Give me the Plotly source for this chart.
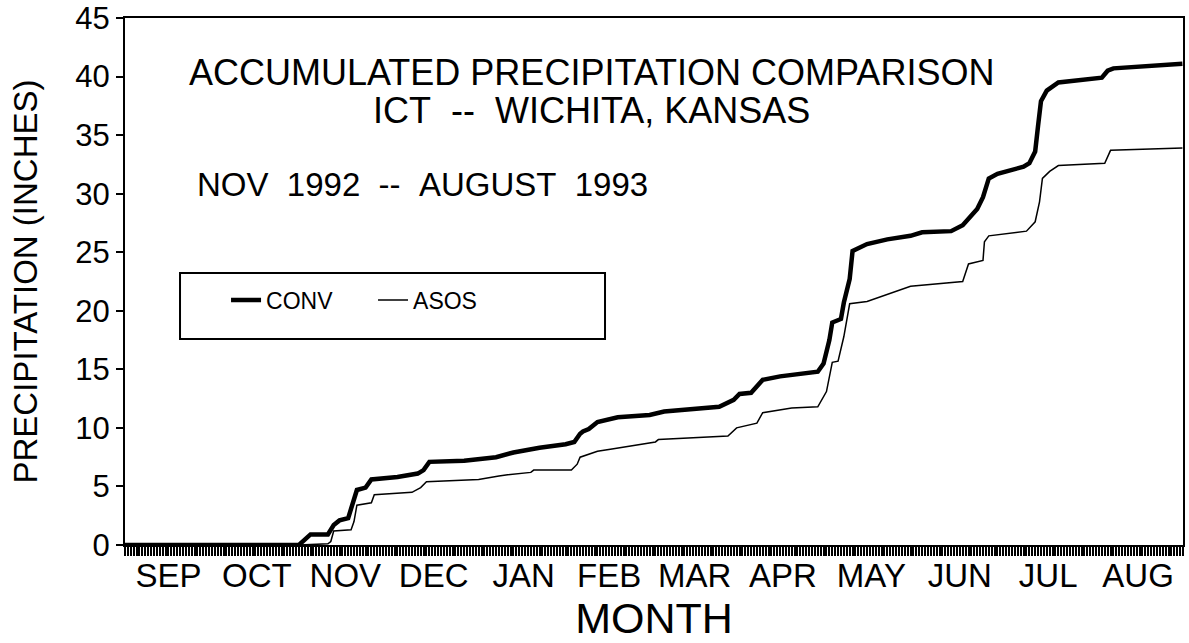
import pandas as pd
import plotly.graph_objects as go

# Days since 1 Sep 1992 and accumulated precipitation (inches)
conv_days = [0, 60, 64, 70, 72, 74, 77, 79, 80, 83, 85, 94, 101, 103, 105, 117, 128, 134, 143,
             152, 155, 157, 158, 160, 163, 170, 181, 186, 205, 210, 212, 216, 220, 226, 239,
             241, 243, 244, 247, 248, 250, 251, 256, 263, 271, 275, 285, 289, 294, 296, 298,
             301, 310, 312, 314, 315, 316, 318, 322, 337, 339, 341, 359, 364.8]
conv_vals = [0, 0, 0.9, 0.9, 1.7, 2.1, 2.3, 3.9, 4.7, 4.9, 5.6, 5.8, 6.1, 6.4, 7.1, 7.2, 7.5, 7.9, 8.3,
             8.6, 8.8, 9.5, 9.7, 9.9, 10.5, 10.9, 11.1, 11.4, 11.8, 12.4, 12.9, 13.0, 14.1, 14.4, 14.8,
             15.5, 17.5, 19.0, 19.3, 20.7, 22.7, 25.1, 25.7, 26.1, 26.4, 26.7, 26.8, 27.3, 28.7, 29.7, 31.3,
             31.7, 32.3, 32.6, 33.6, 35.8, 37.9, 38.8, 39.5, 39.9, 40.5, 40.7, 41.0, 41.1]

asos_days = [0, 60, 70, 71, 72, 78, 79, 80, 85, 86, 99, 102, 104, 122, 129, 132, 140, 141, 154,
             156, 157, 163, 168, 183, 184, 208, 211, 218, 220, 230, 239, 242, 244, 246, 248, 250,
             256, 269, 271, 289, 291, 296, 296.5, 298, 311, 314, 315.5, 316.5, 319, 322, 338, 340, 364.8]
asos_vals = [0, 0, 0.1, 0.3, 1.2, 1.3, 2.0, 3.4, 3.6, 4.3, 4.5, 4.9, 5.4, 5.6, 5.9, 6.0, 6.2, 6.4, 6.4,
             6.9, 7.5, 8.0, 8.2, 8.8, 9.0, 9.3, 10.0, 10.4, 11.3, 11.7, 11.8, 13.1, 15.6, 15.7, 17.8, 20.6,
             20.8, 21.9, 22.1, 22.5, 24.0, 24.3, 25.9, 26.4, 26.8, 27.6, 29.3, 31.3, 31.9, 32.4, 32.6, 33.7, 33.9]

month_labels = ["SEP", "OCT", "NOV", "DEC", "JAN", "FEB", "MAR", "APR", "MAY", "JUN", "JUL", "AUG"]
y_ticks = [0, 5, 10, 15, 20, 25, 30, 35, 40, 45]

start = pd.Timestamp("1992-09-01")
end = pd.Timestamp("1993-09-01")


def to_dates(days):
    return [start + pd.Timedelta(days=d) for d in days]


month_starts = pd.date_range(start, periods=13, freq="MS")
month_mids = [month_starts[i] + (month_starts[i + 1] - month_starts[i]) / 2 for i in range(12)]

FONT = "Liberation Sans, Arial, sans-serif"

fig = go.Figure()
fig.add_trace(go.Scatter(x=to_dates(conv_days), y=conv_vals, mode="lines", name="CONV",
                         line=dict(color="black", width=4.5)))
fig.add_trace(go.Scatter(x=to_dates(asos_days), y=asos_vals, mode="lines", name="ASOS",
                         line=dict(color="black", width=1.5)))

fig.update_layout(
    width=1189, height=643,
    margin=dict(l=125, r=6, t=18, b=98),
    paper_bgcolor="white", plot_bgcolor="white",
    font=dict(family=FONT, color="black"),
    showlegend=True,
    legend=dict(orientation="h", x=0.0955, y=0.465, xanchor="left", yanchor="middle",
                bgcolor="rgba(0,0,0,0)", font=dict(size=23, family=FONT),
                entrywidth=102, entrywidthmode="pixels"),
)

fig.update_xaxes(
    type="date", range=[start, end], automargin=False,
    tickmode="array", tickvals=month_mids, ticktext=month_labels,
    ticks="", tickfont=dict(size=33), ticklabeloverflow="allow",
    showline=True, linecolor="black", linewidth=2, mirror=True,
    showgrid=False, zeroline=False,
    minor=dict(dtick=86400000, tick0="1992-09-01", ticks="outside", ticklen=9,
               tickwidth=1.5, tickcolor="black", showgrid=False),
    title=dict(text="MONTH", font=dict(size=43), standoff=4),
)
fig.update_yaxes(
    range=[0, 45], tickmode="array", tickvals=y_ticks, automargin=False,
    ticks="outside", ticklen=7, tickwidth=2, tickcolor="black",
    tickfont=dict(size=31), ticklabeloverflow="allow",
    showline=True, linecolor="black", linewidth=2, mirror=True,
    showgrid=False, zeroline=False,
    title=dict(text="PRECIPITATION (INCHES)", font=dict(size=33), standoff=28),
)

# legend frame
fig.add_shape(type="rect", xref="paper", yref="paper", x0=0.052, x1=0.4537, y0=0.391, y1=0.516,
              line=dict(color="black", width=2), fillcolor="rgba(0,0,0,0)")

fig.add_annotation(text="ACCUMULATED PRECIPITATION COMPARISON", xref="paper", yref="paper",
                   x=0.441, y=0.8975, xanchor="center", yanchor="middle", showarrow=False,
                   font=dict(size=36))
fig.add_annotation(text="ICT\u00a0\u00a0--\u00a0\u00a0WICHITA, KANSAS", xref="paper", yref="paper",
                   x=0.441, y=0.825, xanchor="center", yanchor="middle", showarrow=False,
                   font=dict(size=36))
fig.add_annotation(text="NOV\u00a0\u00a01992\u00a0\u00a0--\u00a0\u00a0AUGUST\u00a0\u00a01993",
                   xref="paper", yref="paper", x=0.066, y=0.685, xanchor="left", yanchor="middle",
                   showarrow=False, font=dict(size=33))

# remove the default page margin so the figure sits at the window's top-left corner
fig.write_html("out.html", config={"displayModeBar": False},
               post_script="document.body.style.margin='0px'; document.body.style.overflow='hidden';")
